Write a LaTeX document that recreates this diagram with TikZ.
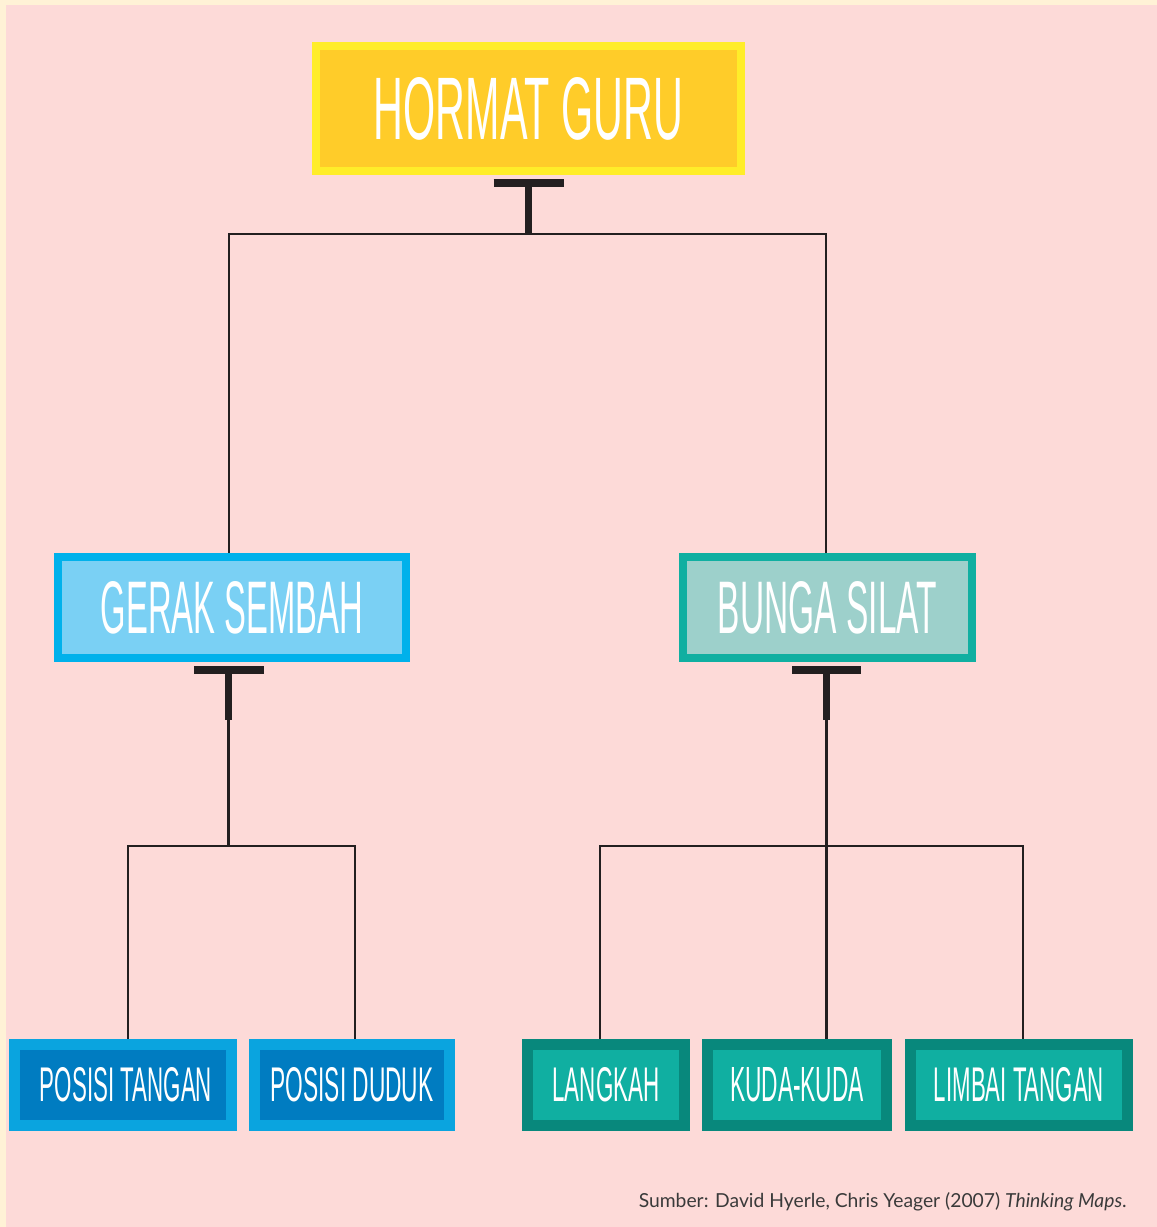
\documentclass[tikz,border=0pt]{standalone}
\usepackage{fontspec}
\usepackage{graphicx}
\usetikzlibrary{backgrounds}
\newfontfamily\labelfont{Liberation Sans}
\newfontfamily\srcfont{Lato}
\definecolor{creambg}{HTML}{FFF2D6}
\definecolor{pinkbg}{HTML}{FDDAD8}
\definecolor{topborder}{HTML}{FFED29}
\definecolor{topfill}{HTML}{FFCC29}
\definecolor{gerakborder}{HTML}{00B1EB}
\definecolor{gerakfill}{HTML}{7AD0F4}
\definecolor{bungaborder}{HTML}{10AFA1}
\definecolor{bungafill}{HTML}{9DD0CB}
\definecolor{blueborder}{HTML}{0AA4DF}
\definecolor{bluefill}{HTML}{007CC1}
\definecolor{tealborder}{HTML}{08887C}
\definecolor{tealfill}{HTML}{10AFA1}
\definecolor{linecol}{HTML}{231F20}
\definecolor{srcgray}{HTML}{3A3A3A}
\newcommand\boxlabel[3]{\resizebox{#1pt}{#2pt}{\labelfont #3}}
\begin{document}
\begin{tikzpicture}[x=1pt,y=-1pt,
  tbox/.style={rectangle, inner sep=0pt, text=white},
  bigbox/.style={tbox, line width=8pt, minimum height=101pt},
  smallbox/.style={tbox, line width=11pt, minimum height=81pt},
  conn/.style={draw=linecol, line width=2.6pt},
  tbar/.style={draw=linecol, line width=8pt},
  tstem/.style={draw=linecol, line width=7pt}]
\useasboundingbox (0,0) rectangle (1157,1227);
\begin{scope}[on background layer]
\fill[creambg] (0,0) rectangle (1157,1227);
\fill[pinkbg] (6,5) rectangle (1157,1227);
\end{scope}

% nodes
\node[tbox, draw=topborder, fill=topfill, line width=8pt, minimum width=425pt, minimum height=125pt] (top) at (528.5,108.5) {\boxlabel{309}{62}{HORMAT GURU}};
\node[bigbox, draw=gerakborder, fill=gerakfill, minimum width=348pt] (gerak) at (232,607.5) {\boxlabel{262}{52}{GERAK SEMBAH}};
\node[bigbox, draw=bungaborder, fill=bungafill, minimum width=289pt] (bunga) at (827.5,607.5) {\boxlabel{219}{52}{BUNGA SILAT}};
\node[smallbox, draw=blueborder, fill=bluefill, minimum width=217pt] (pt) at (123,1085) {\hspace*{6pt}\boxlabel{172}{34}{POSISI TANGAN}};
\node[smallbox, draw=blueborder, fill=bluefill, minimum width=195pt] (pd) at (352,1085) {\boxlabel{163}{34}{POSISI DUDUK}};
\node[smallbox, draw=tealborder, fill=tealfill, minimum width=157pt] (lk) at (606,1085) {\boxlabel{107}{34}{LANGKAH}};
\node[smallbox, draw=tealborder, fill=tealfill, minimum width=179pt] (kk) at (797,1085) {\boxlabel{134}{34}{KUDA-KUDA}};
\node[smallbox, draw=tealborder, fill=tealfill, minimum width=217pt] (lt) at (1019,1085) {\boxlabel{170}{34}{LIMBAI TANGAN}};

\coordinate (j1) at (528.5,234);
\coordinate (j2top) at (228.5,720);
\coordinate (j2) at (228.5,846);
\coordinate (j3top) at (826.5,720);
\coordinate (j3) at (826.5,846);

\begin{scope}[on background layer]
\draw[conn] ([xshift=-3pt]gerak.north) |- (j1) -| ([xshift=-1.5pt]bunga.north);
\draw[conn] (j2top) -- (j2);
\draw[conn] ([xshift=5pt]pt.north) |- (j2) -| ([xshift=3pt]pd.north);
\draw[conn] (j3top) -- (j3);
\draw[conn] ([xshift=-6pt]lk.north) |- (j3) -| ([xshift=4pt]lt.north);
\draw[conn] (j3) -- ([xshift=29.5pt]kk.north);
\end{scope}

% T connectors
\draw[tbar] ([xshift=-35pt,yshift=-8pt]top.south) -- ([xshift=35pt,yshift=-8pt]top.south);
\draw[tstem] ([yshift=-8pt]top.south) -- ([yshift=1pt]j1);
\draw[tbar] ([xshift=-38pt,yshift=-8pt]gerak.south) -- ([xshift=32pt,yshift=-8pt]gerak.south);
\draw[tstem] ([xshift=-3.5pt,yshift=-8pt]gerak.south) -- (j2top);
\draw[tbar] ([xshift=-35.5pt,yshift=-8pt]bunga.south) -- ([xshift=33.5pt,yshift=-8pt]bunga.south);
\draw[tstem] ([xshift=-1pt,yshift=-8pt]bunga.south) -- (j3top);

\node[anchor=base east, font=\srcfont\fontsize{19.3}{23}\selectfont, text=srcgray, inner sep=0pt] (src) at (1127,1207) {Sumber: David Hyerle, Chris Yeager (2007) \textit{Thinking Maps}.};
\end{tikzpicture}
\end{document}
